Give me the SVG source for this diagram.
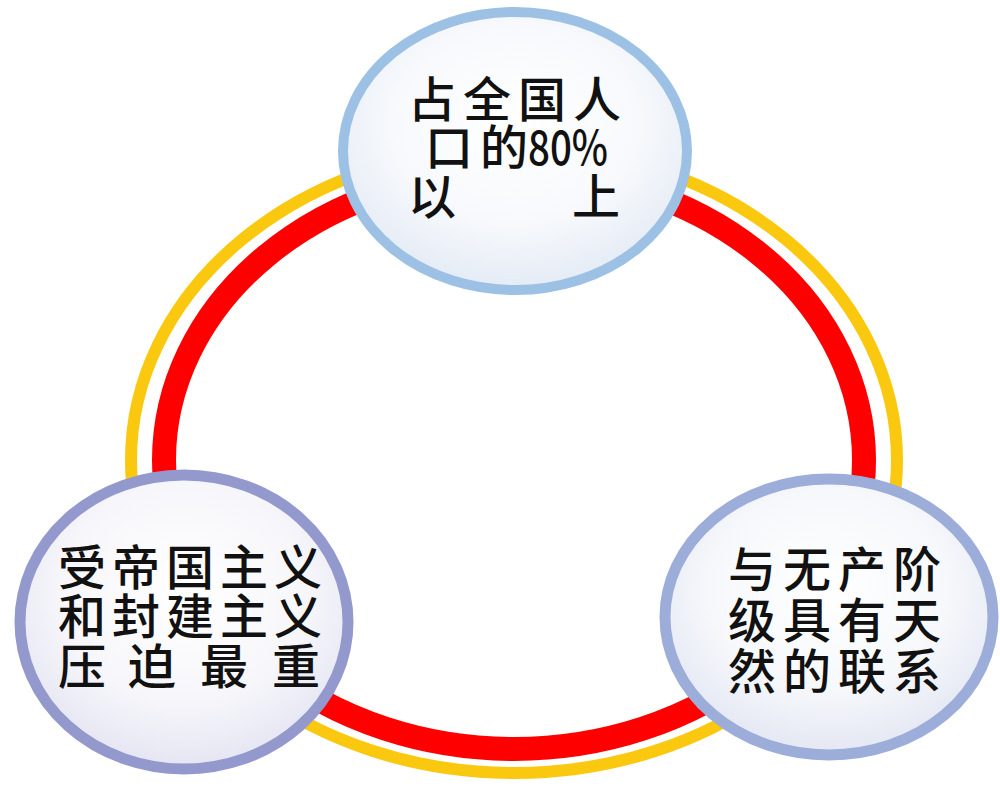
<svg xmlns="http://www.w3.org/2000/svg" width="1000" height="787" viewBox="0 0 1000 787">
<defs>
<radialGradient id="fillTop" cx="50%" cy="40%" r="60%">
<stop offset="0%" stop-color="#ffffff"/>
<stop offset="60%" stop-color="#f7f9fc"/>
<stop offset="100%" stop-color="#e4ebf5"/>
</radialGradient>
<radialGradient id="fillLeft" cx="50%" cy="40%" r="60%">
<stop offset="0%" stop-color="#ffffff"/>
<stop offset="60%" stop-color="#f7f7fb"/>
<stop offset="100%" stop-color="#e4e5f2"/>
</radialGradient>
<radialGradient id="fillRight" cx="50%" cy="40%" r="60%">
<stop offset="0%" stop-color="#ffffff"/>
<stop offset="60%" stop-color="#f6f8fb"/>
<stop offset="100%" stop-color="#e3e7f3"/>
</radialGradient>
</defs>
<style>
.txt{font-family:"Noto Sans CJK SC","Noto Sans",sans-serif;font-size:48px;font-weight:500;fill:#111111;letter-spacing:7px}
.ring{fill:none}
</style>
<rect width="1000" height="787" fill="#ffffff"/>
<g id="connectors">
<ellipse class="ring" cx="514" cy="460" rx="383" ry="313" stroke="#fac90f" stroke-width="12"/>
<ellipse class="ring" cx="514" cy="460" rx="350" ry="289" stroke="#fe0000" stroke-width="24"/>
</g>
<g id="node-top">
<ellipse cx="515" cy="151" rx="172" ry="139" fill="url(#fillTop)" stroke="#9dc1e4" stroke-width="10"/>
<text class="txt" x="408" y="117">占全国人</text>
<text class="txt" x="425" y="165">口的</text>
<text class="txt" x="528" y="165" textLength="80" lengthAdjust="spacingAndGlyphs" style="letter-spacing:0">80%</text>
<text class="txt" x="408" y="214">以</text>
<text class="txt" x="572" y="214">上</text>
</g>
<g id="node-left">
<ellipse cx="184" cy="622" rx="164" ry="147" fill="url(#fillLeft)" stroke="#9499cd" stroke-width="11"/>
<text class="txt" x="58" y="585" style="letter-spacing:6px">受帝国主义</text>
<text class="txt" x="58" y="634" style="letter-spacing:6px">和封建主义</text>
<text class="txt" x="58" y="684">压</text>
<text class="txt" x="128" y="684">迫</text>
<text class="txt" x="200" y="684">最</text>
<text class="txt" x="272" y="684">重</text>
</g>
<g id="node-right">
<ellipse cx="829" cy="617" rx="164" ry="138" fill="url(#fillRight)" stroke="#9cadd9" stroke-width="11"/>
<text class="txt" x="728" y="587">与无产阶</text>
<text class="txt" x="728" y="638">级具有天</text>
<text class="txt" x="728" y="689">然的联系</text>
</g>
</svg>
